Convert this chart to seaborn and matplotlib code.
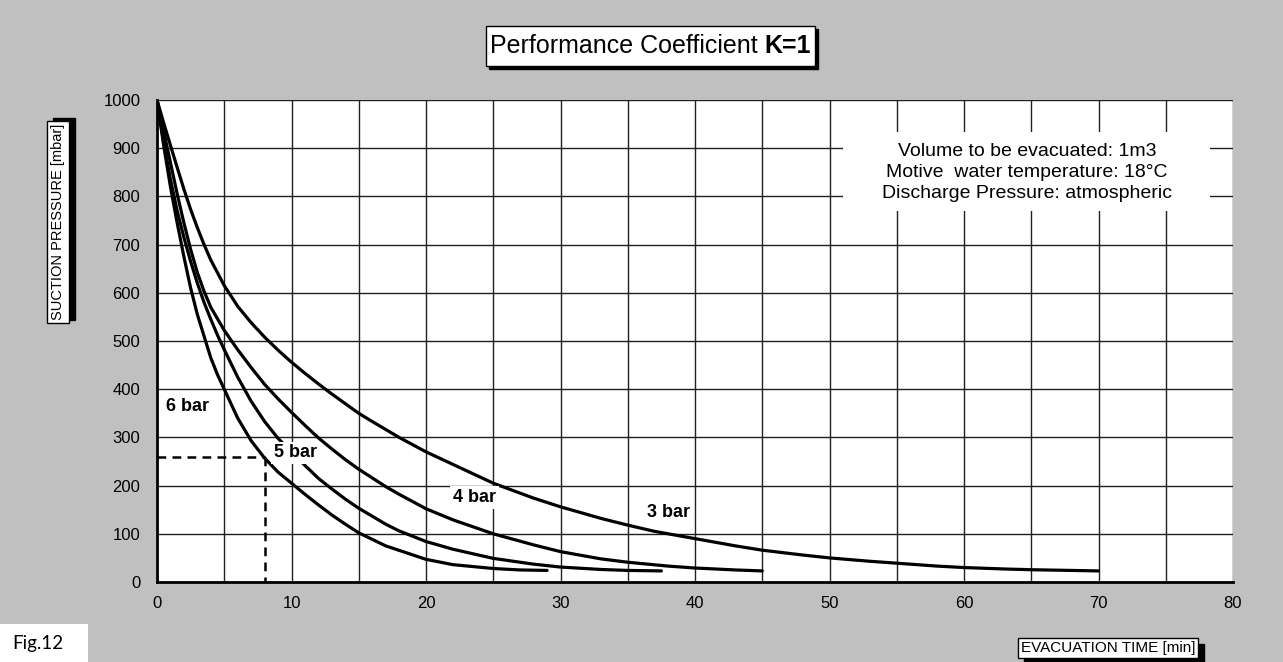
import numpy as np
import pandas as pd
import matplotlib
matplotlib.use("Agg")
import matplotlib.pyplot as plt
import matplotlib.transforms as mtransforms
from matplotlib.patches import Rectangle
import seaborn as sns

# evacuation time [min] vs suction pressure [mbar], one curve per motive pressure
x_6bar = [0, 0.5, 1, 1.5, 2, 2.5, 3, 3.5, 4, 4.5, 5, 6, 7, 8, 9, 10, 11, 12, 13, 14, 15, 17, 20, 22, 25, 27, 29]
y_6bar = [1000, 905, 820, 745, 675, 610, 555, 510, 465, 430, 400, 340, 293, 257, 228, 205, 182, 160, 139, 120, 102, 75, 47, 36, 28, 25, 24]

x_5bar = [0, 0.5, 1, 1.5, 2, 2.5, 3, 3.5, 4, 4.5, 5, 6, 7, 8, 9, 10, 11, 12, 13, 14, 15, 17, 18, 20, 22, 25, 28, 30, 33, 35, 37.5]
y_5bar = [1000, 912, 835, 770, 715, 665, 620, 580, 545, 512, 482, 425, 375, 333, 298, 270, 242, 215, 193, 172, 153, 120, 106, 84, 68, 49, 37, 31, 26, 24, 23]

x_4bar = [0, 0.5, 1, 1.5, 2, 2.5, 3, 3.5, 4, 5, 6, 7, 8, 9, 10, 11, 12, 13, 14, 15, 17, 18, 20, 22, 25, 28, 30, 33, 35, 38, 40, 43, 45]
y_4bar = [1000, 935, 870, 805, 745, 690, 642, 603, 570, 522, 482, 445, 410, 380, 352, 325, 299, 276, 254, 234, 198, 182, 152, 129, 100, 77, 63, 48, 41, 33, 29, 25, 23]

x_3bar = [0, 0.5, 1, 1.5, 2, 2.5, 3, 3.5, 4, 5, 6, 7, 8, 9, 10, 11, 12, 13, 14, 15, 16, 18, 20, 22, 25, 28, 30,
          33, 35, 37, 40, 43, 45, 48, 50, 53, 55, 58, 60, 63, 65, 68, 70]
y_3bar = [1000, 952, 906, 860, 815, 773, 735, 700, 668, 615, 572, 538, 508, 481, 456, 433, 411, 390, 370, 350, 333, 300, 270, 244, 205, 174, 156,
          132, 118, 105, 90, 75, 66, 56, 50, 43, 39, 33, 30, 27, 25.5, 24, 23]

curve_names = ["6 bar", "5 bar", "4 bar", "3 bar"]

# example reading (dashed)
example_time = 8
example_pressure = 260

x_ticks = list(range(0, 81, 10))
y_ticks = list(range(0, 1001, 100))

info_lines = ["Volume to be evacuated: 1m3",
              "Motive  water temperature: 18°C",
              "Discharge Pressure: atmospheric"]

frames = []
for name, xs, ys in zip(curve_names, [x_6bar, x_5bar, x_4bar, x_3bar], [y_6bar, y_5bar, y_4bar, y_3bar]):
    frames.append(pd.DataFrame({"time": xs, "pressure": ys, "curve": name}))
df = pd.concat(frames, ignore_index=True)

sns.set_theme(style="white")
plt.rcParams["font.family"] = ["Liberation Sans", "DejaVu Sans"]
plt.rcParams["text.color"] = "black"

BG = "#c0c0c0"
fig = plt.figure(figsize=(12.83, 6.62), dpi=100, facecolor=BG)
ax = fig.add_axes([157 / 1283, 80 / 662, 1076 / 1283, 482 / 662])
ax.set_facecolor("white")

for name in curve_names:
    sub = df[df["curve"] == name]
    sns.lineplot(data=sub, x="time", y="pressure", ax=ax, color="black",
                 linewidth=2.3, sort=False, estimator=None, zorder=4)

ax.plot([0, example_time], [example_pressure, example_pressure], color="black",
        lw=1.8, ls=(0, (3.5, 2.5)), zorder=4, clip_on=False)
ax.plot([example_time, example_time], [example_pressure, 0], color="black",
        lw=1.8, ls=(0, (3.5, 2.5)), zorder=4)

ax.set_xlim(0, 80)
ax.set_ylim(0, 1000)
ax.set_xticks(x_ticks)
ax.set_xticks(np.arange(5, 80, 10), minor=True)
ax.set_yticks(y_ticks)
ax.set_xlabel("")
ax.set_ylabel("")
ax.grid(which="both", color="#202020", linewidth=1.0)
ax.tick_params(axis="both", which="major", direction="out", length=6, width=1.2,
               color="black", labelsize=12, pad=4, labelcolor="black")
ax.tick_params(axis="x", which="minor", length=0)
ax.tick_params(axis="y", pad=6)
for side in ["top", "right"]:
    ax.spines[side].set_visible(False)
for side in ["left", "bottom"]:
    ax.spines[side].set_color("black")
    ax.spines[side].set_linewidth(2)

# curve labels
label_pos = {"6 bar": (2.3, 364), "5 bar": (10.3, 268), "4 bar": (23.6, 175), "3 bar": (38.0, 144)}
for name, (lx, ly) in label_pos.items():
    ax.text(lx, ly, name, fontsize=13, fontweight="bold", ha="center", va="center",
            color="black", zorder=6,
            bbox=dict(boxstyle="square,pad=0.15", fc="white", ec="none"))

# info block
ax.add_patch(Rectangle((51.0, 769), 27.3, 165, fc="white", ec="none", zorder=2))
ax.text(64.7, 850, "\n".join(info_lines), fontsize=14, ha="center", va="center",
        multialignment="center", linespacing=1.3, color="black", zorder=3)

# boxed texts with drop shadows
t_title1 = fig.text(490 / 1283, 1 - 46 / 662, "Performance Coefficient ", fontsize=18,
                    ha="left", va="center", zorder=5)
t_title2 = fig.text(0, 0, "K=1", fontsize=18, fontweight="bold", zorder=5,
                    ha="left", va="center")
t_ylab = fig.text(58 / 1283, 1 - 222 / 662, "SUCTION PRESSURE [mbar]", fontsize=10.5,
                  ha="center", va="center", rotation=90, zorder=5)
t_xlab = fig.text(1108 / 1283, 1 - 648 / 662, "EVACUATION TIME [min]", fontsize=11,
                  ha="center", va="center", zorder=5)
fig.text(12 / 1283, 1 - 643 / 662, "Fig.12", fontsize=13.5, ha="left", va="center",
         family=["Lato", "DejaVu Sans"], zorder=5)
fig.patches.append(Rectangle((0, 0), 88 / 1283, 38 / 662, transform=fig.transFigure,
                             fc="white", ec="none", zorder=1))

fig.canvas.draw()
r = fig.canvas.get_renderer()
bb1 = t_title1.get_window_extent(r)
t_title2.set_transform(mtransforms.IdentityTransform())
t_title2.set_position((bb1.x1, (bb1.y0 + bb1.y1) / 2))
fig.canvas.draw()
bb2 = t_title2.get_window_extent(r)


def shadow_box(bb, padx, pady, dx, dy):
    x0, y0 = bb.x0 - padx, bb.y0 - pady
    w, h = bb.width + 2 * padx, bb.height + 2 * pady
    ident = mtransforms.IdentityTransform()
    fig.patches.append(Rectangle((x0 + dx, y0 + dy), w, h, transform=ident,
                                 fc="black", ec="black", zorder=1))
    fig.patches.append(Rectangle((x0, y0), w, h, transform=ident,
                                 fc="white", ec="black", lw=1, zorder=2))


shadow_box(mtransforms.Bbox.union([bb1, bb2]), 4, 8, 3, -3)
shadow_box(t_ylab.get_window_extent(r), 4, 3, 6, 3)
shadow_box(t_xlab.get_window_extent(r), 3, 3, 6, -6)

fig.savefig("out.png", dpi=100, facecolor=BG)
